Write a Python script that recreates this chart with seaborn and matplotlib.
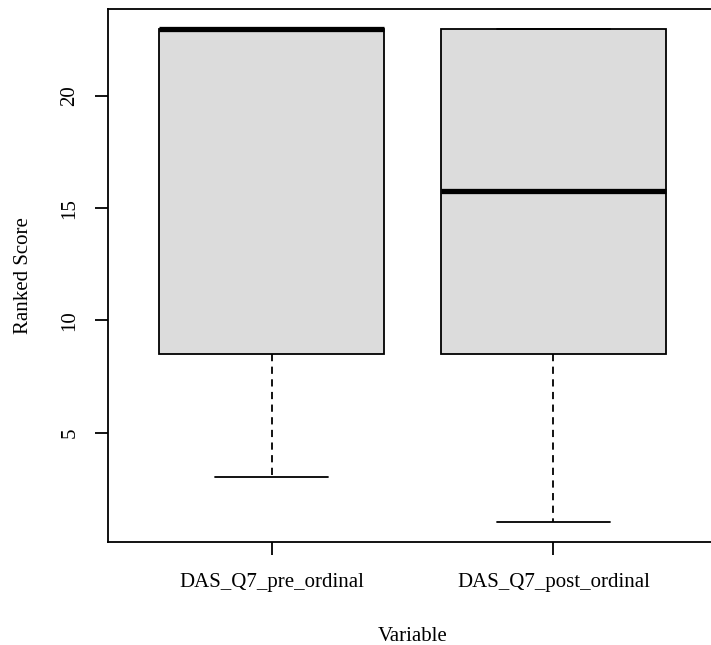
import matplotlib
matplotlib.use("Agg")
import matplotlib.pyplot as plt
import seaborn as sns
import pandas as pd

categories = ["DAS_Q7_pre_ordinal", "DAS_Q7_post_ordinal"]
pre_scores = [3, 8.5, 8.5, 23, 23, 23, 23]
post_scores = [1, 8.5, 8.5, 15.75, 23, 23, 23]
y_ticks = [5, 10, 15, 20]

df = pd.DataFrame({
    "Variable": [categories[0]] * len(pre_scores) + [categories[1]] * len(post_scores),
    "Ranked Score": pre_scores + post_scores,
})

sns.set_theme(style="white")
plt.rcParams["font.family"] = ["Liberation Serif", "DejaVu Serif"]

W, H = 711, 645
fig = plt.figure(figsize=(W / 100, H / 100), dpi=100)
ax = fig.add_axes([108 / W, (H - 542) / H, (717 - 108) / W, (542 - 9) / H])

lw = 1.3
fs = 15
sns.boxplot(data=df, x="Variable", y="Ranked Score", order=categories, ax=ax,
            color="#DCDCDC", saturation=1, linecolor="black", linewidth=lw,
            width=0.8, showfliers=False,
            whiskerprops=dict(linestyle=(0, (4, 3)), linewidth=lw),
            capprops=dict(linewidth=lw),
            medianprops=dict(linewidth=3.8, color="black", solid_capstyle="butt"),
            capwidths=0.4)

ax.set_xlim(-0.58, 1.58)
ax.set_ylim(0.12, 23.88)
ax.set_yticks(y_ticks)
ax.set_yticklabels([str(t) for t in y_ticks], rotation=90, va="center")
for s in ax.spines.values():
    s.set_visible(True)
    s.set_color("black")
    s.set_linewidth(1.3)
ax.tick_params(axis="both", direction="out", length=9.5, width=1.3, color="black",
               labelsize=fs, labelcolor="black", pad=11, left=True, bottom=True)
ax.tick_params(axis="x", pad=13)
ax.set_xlabel("Variable", fontsize=fs, color="black", labelpad=25)
ax.set_ylabel("Ranked Score", fontsize=fs, color="black", labelpad=20)
ax.grid(False)

fig.savefig("out.png", dpi=100)
